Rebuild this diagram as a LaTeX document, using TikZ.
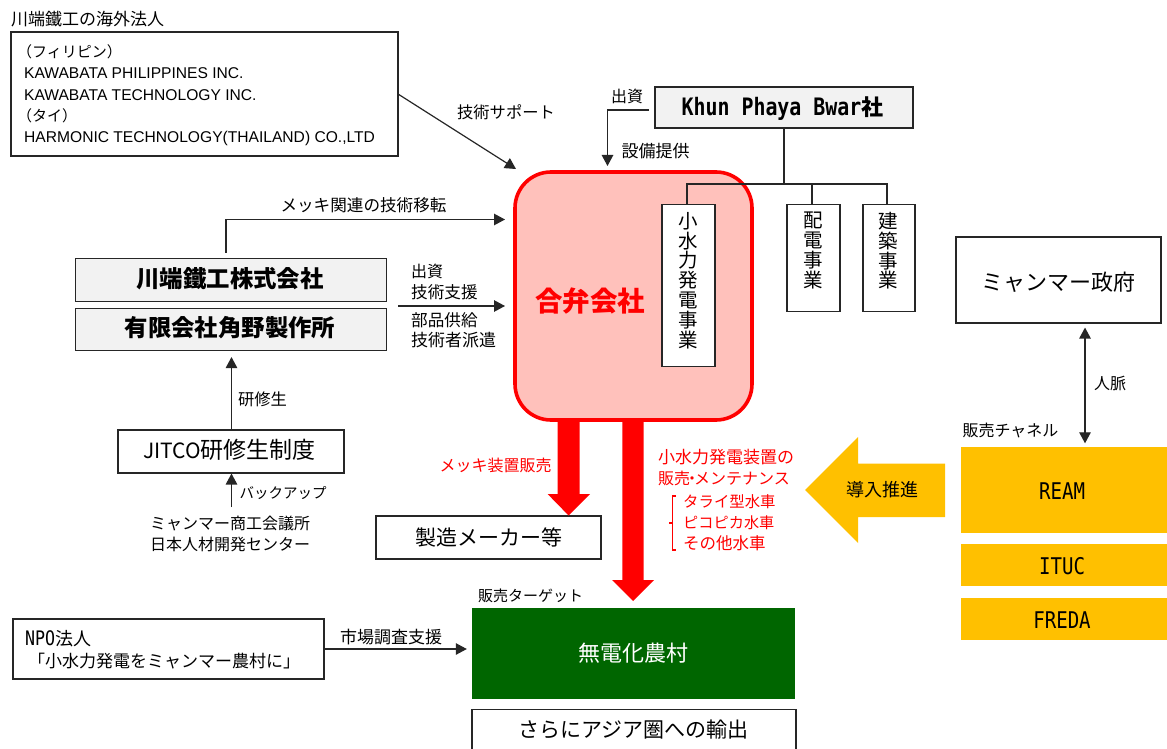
\documentclass[tikz,border=0pt]{standalone}
\usepackage{fontspec}
\usetikzlibrary{arrows.meta}
\setmainfont{Noto Sans CJK JP}
\newfontfamily\latinf{Liberation Sans}
\newfontfamily\monof[FakeStretch=0.83]{DejaVu Sans Mono}
\definecolor{boxgray}{HTML}{F2F2F2}
\definecolor{jvpink}{HTML}{FFC1BB}
\definecolor{gold}{HTML}{FFC000}
\definecolor{dkgreen}{HTML}{006600}
\newcommand{\fs}[1]{\fontsize{#1}{#1}\selectfont}
\tikzset{
  x=1pt,y=-1pt,
  box/.style={draw=black!85,line width=1.1pt,fill=white,inner sep=0pt,text=black,align=center},
  graybox/.style={box,fill=boxgray},
  plain/.style={inner sep=0pt,align=center,text=black},
  vbox/.style={box,anchor=north,align=center},
  gbar/.style={fill=gold,inner sep=0pt,align=center,text=black},
  conn/.style={draw=black!85,line width=1.2pt},
  arr/.style={conn,-{Triangle[length=11pt,width=11.5pt]}},
  barr/.style={conn,{Triangle[length=11pt,width=11.5pt]}-{Triangle[length=11pt,width=11.5pt]}},
  lab/.style={plain,font=\fs{16.3}},
  redlab/.style={plain,text=red,font=\fs{16}},
  vtext/.style={font=\fontsize{19.5}{19.8}\selectfont}
}
\begin{document}
\begin{tikzpicture}
\useasboundingbox[fill=white] (0,0) rectangle (1167,749);
% overseas
\node[lab,anchor=west,font=\fs{17}] (ovt) at (11,19) {川端鐵工の海外法人};
\node[box,minimum width=387pt,minimum height=124pt] (ov) at (204.5,94) {};
\node[lab,anchor=west,font=\fs{15}] (ph) at (17,52) {（フィリピン）};
\node[lab,anchor=west,font=\latinf\fs{15.6}] (k1) at (24,73) {KAWABATA PHILIPPINES INC.};
\node[lab,anchor=west,font=\latinf\fs{15.6}] (k2) at (24,95) {KAWABATA TECHNOLOGY INC.};
\node[lab,anchor=west,font=\fs{15}] (th) at (17,116) {（タイ）};
\node[lab,anchor=west,font=\latinf\fs{15.6}] (hm) at (24,138) {HARMONIC TECHNOLOGY(THAILAND) CO.,LTD};
% joint venture
\node[draw=red,line width=3.6pt,fill=jvpink,rounded corners=36pt,minimum width=237pt,minimum height=248pt,inner sep=0pt] (jv) at (633.5,296) {};
\node[plain,text=red,font=\bfseries\fs{27.5}] (jvt) at (590,301) {合弁会社};
% Khun
\node[graybox,minimum width=258pt,minimum height=41pt] (kp) at (784,107.5) {};
\node[plain,font=\monof\bfseries\fs{24}] (kpt) at (782.5,108.5) {Khun Phaya Bwar{\rmfamily\bfseries\fs{22}社}};
\node[vbox,minimum width=53pt,minimum height=162pt] (s1) at (688.5,204) {};
\node[vbox,minimum width=53pt,minimum height=107pt] (s2) at (813.5,204) {};
\node[vbox,minimum width=52pt,minimum height=107pt] (s3) at (889,204) {};
\node[plain,vtext,anchor=north] (s1t) at (688.5,212) {小\\水\\力\\発\\電\\事\\業};
\node[plain,vtext,anchor=north] (s2t) at (813,212) {配\\電\\事\\業};
\node[plain,vtext,anchor=north] (s3t) at (888,212) {建\\築\\事\\業};
\coordinate (tee) at (784,184);
\coordinate (hl) at (687,184);
\coordinate (hm2) at (812,184);
\coordinate (hr) at (887,184);
\draw[conn] (kp.south -| tee) -- (tee);
\draw[conn] (s1.north -| hl) -- (hl) -- (hr) -- (s3.north -| hr);
\draw[conn] (hm2) -- (s2.north -| hm2);
% invest arrow
\coordinate (k0) at (649,110);
\coordinate (kb) at (607.5,110);
\coordinate (ke) at (607.5,166);
\draw[arr] (k0) -- (kb) -- (ke);
\node[lab,font=\fs{16}] (l1) at (627,96) {出資};
\node[lab,font=\fs{17}] (l2) at (655.5,151) {設備提供};
% tech support
\coordinate (tsa) at (398,94);
\coordinate (tsb) at (516,169);
\draw[arr] (tsa) -- (tsb);
\node[lab] (l3) at (506,112) {技術サポート};
% Kawabata
\node[graybox,minimum width=311pt,minimum height=43pt] (kw) at (231,280) {};
\node[plain,font=\bfseries\fs{23.4}] (kwt) at (230,279) {川端鐵工株式会社};
\node[graybox,minimum width=311pt,minimum height=42pt] (ts) at (231,329.5) {};
\node[plain,font=\bfseries\fs{23.4}] (tst) at (230,328) {有限会社角野製作所};
\coordinate (ma) at (226,219.5);
\coordinate (mb) at (505,219.5);
\draw[arr] ([yshift=5pt]kw.north -| ma) -- (ma) -- (mb);
\node[lab,font=\fs{16.6}] (l4) at (363.5,205) {メッキ関連の技術移転};
\coordinate (ia) at (398,306);
\coordinate (ib) at (505,306);
\draw[arr] (ia) -- (ib);
\node[lab,anchor=west,font=\fs{16}] (l5) at (411,271) {出資};
\node[lab,anchor=west,font=\fs{16.6}] (l6) at (411,292) {技術支援};
\node[lab,anchor=west,font=\fs{16.6}] (l7) at (411,320) {部品供給};
\node[lab,anchor=west,font=\fs{17}] (l8) at (411,340) {技術者派遣};
% JITCO
\node[box,minimum width=226pt,minimum height=43pt] (ji) at (231,451.5) {};
\node[plain,font=\fs{23}] (jit) at (229.5,450) {{\fs{21}JITCO}研修生制度};
\coordinate (jx) at (231.5,400);
\draw[arr] (ji.north -| jx) -- ([yshift=-6pt]ts.south -| jx);
\node[lab] (l9) at (262.5,399) {研修生};
\node[plain,font=\fontsize{16}{21}\selectfont] (cc) at (230,533.5) {ミャンマー商工会議所\\日本人材開発センター};
\coordinate (cb) at (231.5,507);
\draw[arr] (cb) -- (ji.south -| cb);
\node[lab,font=\fs{14.5}] (l10) at (283,493) {バックアップ};
% maker
\node[box,minimum width=225pt,minimum height=43pt,font=\fs{21}] (mk) at (488.5,537.5) {製造メーカー等};
\fill[red] (557.6,420) -- (579.6,420) -- (579.6,494) -- (590,494) -- (568.6,515.5) -- (547.6,494) -- (557.6,494) -- cycle;
\fill[red] (622.3,420) -- (643.6,420) -- (643.6,580) -- (654,580) -- (633,601) -- (612,580) -- (622.3,580) -- cycle;
\node[redlab] (r1) at (495.5,465) {メッキ装置販売};
\node[redlab,anchor=west,font=\fs{17}] (r2) at (658,457.5) {小水力発電装置の};
\node[redlab,anchor=west] (r3) at (658,478) {販売\kern-6pt・\kern-6pt メンテナンス};
\node[redlab,anchor=west,font=\fs{15.4}] (r4) at (683,502) {タライ型水車};
\node[redlab,anchor=west,font=\fs{15.2}] (r5) at (683,523) {ピコピカ水車};
\node[redlab,anchor=west,font=\fs{16.5}] (r6) at (683,543) {その他水車};
\draw[red,line width=1.1pt] (676,496) -- (672.8,496) -- (672.8,550) -- (676,550) (672.8,523) -- (669.4,523);
% promo arrow
\fill[gold] (805,490) -- (858,437) -- (858,463.5) -- (945,463.5) -- (945,517) -- (858,517) -- (858,543) -- cycle;
\node[plain,font=\fs{18}] (pr) at (882,490) {導入推進};
% Myanmar
\node[box,minimum width=205pt,minimum height=86pt] (mg) at (1058.5,280) {};
\node[plain,font=\fs{22}] (mgt) at (1058,282.5) {ミャンマー政府};
\node[gbar,minimum width=206pt,minimum height=86pt] (re) at (1064,490) {};
\node[plain,font=\monof\fs{23}] (ret) at (1062,491.5) {REAM};
\node[gbar,minimum width=206pt,minimum height=42pt] (it) at (1064,565) {};
\node[plain,font=\monof\fs{23}] (itt) at (1062,566.5) {ITUC};
\node[gbar,minimum width=206pt,minimum height=42pt] (fr) at (1064,619) {};
\node[plain,font=\monof\fs{23}] (frt) at (1062,620.5) {FREDA};
\coordinate (dx) at (1085,400);
\draw[barr] ([yshift=-4pt]mg.south -| dx) -- ([yshift=3.5pt]re.north -| dx);
\node[lab,font=\fs{16}] (l11) at (1110,383) {人脈};
\node[lab,font=\fs{16}] (l12) at (1010.5,430) {販売チャネル};
% NPO
\node[box,minimum width=311pt,minimum height=60pt] (np) at (168.5,649) {};
\node[lab,anchor=west,font=\fs{18}] (n1) at (25,639) {{\monof\fs{20}NPO}法人};
\node[lab,anchor=west,font=\fs{17}] (n2) at (28,661) {「小水力発電をミャンマー農村に」};
% target
\node[fill=dkgreen,inner sep=0pt,minimum width=323pt,minimum height=91pt,text=white,font=\fs{22}] (tg) at (633.5,653.5) {無電化農村};
\coordinate (ny) at (400,649);
\draw[arr] (np.east |- ny) -- ([xshift=-5pt]tg.west |- ny);
\node[lab,font=\fs{17}] (l13) at (391,637) {市場調査支援};
\node[lab,font=\fs{15}] (l14) at (530.5,596) {販売ターゲット};
\node[box,minimum width=324pt,minimum height=44pt,anchor=north] (ex) at (634,709) {};
\node[plain,font=\fs{21}] (ext) at (633.5,730) {さらにアジア圏への輸出};
\end{tikzpicture}
\end{document}
